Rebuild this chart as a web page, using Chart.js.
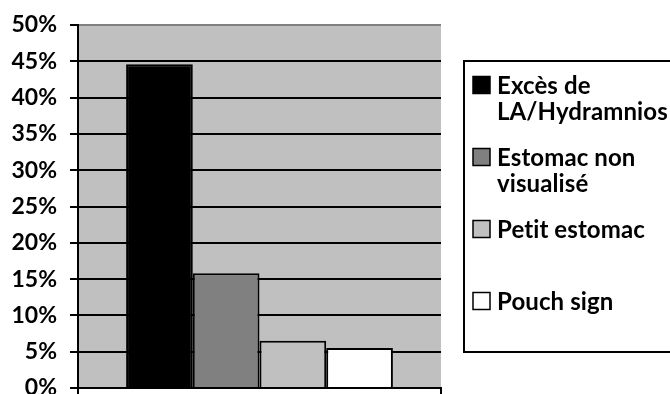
<!DOCTYPE html>
<html>
<head>
<meta charset="utf-8">
<script src="https://cdn.jsdelivr.net/npm/chart.js@4.4.1/dist/chart.umd.min.js"></script>
<style>
  html, body { margin: 0; padding: 0; background: #ffffff; }
  #wrap { width: 670px; height: 394px; position: relative; }
</style>
</head>
<body>
<div id="wrap"><canvas id="c" width="670" height="394"></canvas></div>
<script>
// Single category, one bar per finding
const categories = [''];
const seriesLines = [
  ['Excès de', 'LA/Hydramnios'],
  ['Estomac non', 'visualisé'],
  ['Petit estomac'],
  ['Pouch sign']
];
const seriesValues = [44.6, 15.8, 6.5, 5.5];
const seriesColors = ['#000000', '#808080', '#C0C0C0', '#FFFFFF'];
const yTicks = [0, 5, 10, 15, 20, 25, 30, 35, 40, 45, 50];

const FONT = 'Lato, "Open Sans", sans-serif';

// Legend drawn in a framed box at the right of the plot
const boxLegend = {
  id: 'boxLegend',
  afterDraw(chart) {
    const ctx = chart.ctx;
    ctx.save();
    const left = 464, top = 61, bottom = 352, right = 674;
    ctx.fillStyle = '#ffffff';
    ctx.fillRect(left, top, right - left, bottom - top);
    ctx.lineWidth = 2;
    ctx.strokeStyle = '#000000';
    ctx.strokeRect(left, top, right - left, bottom - top);

    ctx.font = 'bold 24px ' + FONT;
    if ('letterSpacing' in ctx) ctx.letterSpacing = '0.1px';
    ctx.textBaseline = 'alphabetic';
    ctx.textAlign = 'left';
    const firstBase = 93.5, slot = 72, lineH = 26, sq = 17;
    chart.data.datasets.forEach((ds, i) => {
      const base = firstBase + i * slot;
      ctx.fillStyle = ds.backgroundColor;
      ctx.fillRect(473, base - sq, sq, sq);
      ctx.lineWidth = 1.5;
      ctx.strokeStyle = '#000000';
      ctx.strokeRect(473, base - sq, sq, sq);
      ctx.fillStyle = '#000000';
      ds.legendLines.forEach((t, k) => ctx.fillText(t, 497, base + k * lineH));
    });
    ctx.restore();
  }
};

function build() {
  const datasets = seriesValues.map((v, i) => ({
    label: seriesLines[i].join(' '),
    legendLines: seriesLines[i],
    data: [v],
    backgroundColor: seriesColors[i],
    borderColor: '#000000',
    borderWidth: 2,
    borderSkipped: 'bottom',
    categoryPercentage: 0.735,
    barPercentage: 1.0
  }));

  new Chart(document.getElementById('c'), {
    type: 'bar',
    data: { labels: categories, datasets },
    plugins: [
      {
        id: 'plotBg',
        beforeDraw(chart) {
          const a = chart.chartArea, ctx = chart.ctx;
          ctx.save();
          ctx.fillStyle = '#C0C0C0';
          ctx.fillRect(a.left, a.top, a.right - a.left, a.bottom - a.top);
          ctx.restore();
        }
      },
      boxLegend
    ],
    options: {
      responsive: false,
      animation: false,
      devicePixelRatio: 1,
      layout: { padding: { left: 0, right: 229, top: 25, bottom: 0 } },
      plugins: { legend: { display: false }, tooltip: { enabled: false } },
      scales: {
        x: {
          offset: true,
          afterFit: (s) => { s.height = 6; s.paddingLeft = 0; s.paddingRight = 0; },
          ticks: { display: false },
          grid: {
            display: true,
            offset: true,
            drawOnChartArea: true,
            color: (c) => (c.index === 1 ? '#808080' : 'rgba(0,0,0,0)'),
            tickColor: '#000000',
            lineWidth: 2,
            tickWidth: 2,
            tickLength: 6
          },
          border: { display: true, color: '#000000', width: 2 }
        },
        y: {
          min: 0,
          max: 50,
          afterFit: (s) => { s.width = 78; s.paddingTop = 0; s.paddingBottom = 0; },
          afterBuildTicks: (s) => { s.ticks = yTicks.map(v => ({ value: v })); },
          ticks: {
            stepSize: 5,
            padding: 13,
            color: '#000000',
            font: { family: FONT, size: 23, weight: 'bold' },
            callback: (v) => v + '%'
          },
          grid: {
            color: (c) => (c.tick && c.tick.value === 50 ? '#808080' : '#000000'),
            tickColor: '#000000',
            lineWidth: 2,
            tickWidth: 2,
            tickLength: 8
          },
          border: { display: true, color: '#000000', width: 2 }
        }
      }
    }
  });
}

if (document.fonts && document.fonts.load) {
  document.fonts.load('bold 24px Lato').then(build, build);
} else {
  build();
}
</script>
</body>
</html>
